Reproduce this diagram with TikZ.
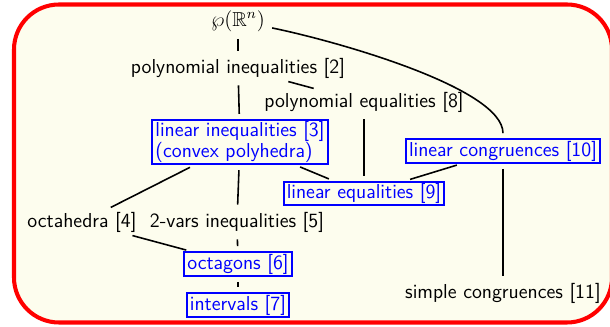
\documentclass[tikz,border=0pt]{standalone}
\usepackage{amssymb}
\definecolor{paper}{RGB}{253,253,238}

\begin{document}
\begin{tikzpicture}[x=0.02cm, y=-0.02cm,
    every node/.style={font=\sffamily\fontsize{11.5}{11.8}\selectfont, inner sep=1pt},
    boxed/.style={draw=blue, text=blue, line width=1pt, inner xsep=1.8pt, inner ysep=0.9pt},
    link/.style={line width=0.9pt, shorten <=3pt, shorten >=3pt}]
    \useasboundingbox (0,0) rectangle (610,327);
    \begin{scope}
      \clip (0,0) rectangle (610,327);
      \draw[red, line width=2.3pt, fill=paper, rounded corners=0.9cm] (14,4.5) rectangle (612,322.5);
    \end{scope}
    \node (wp) at (238,21) {$\wp(\mathbb{R}^n)$};
    \node (pineq) at (238,68) {polynomial inequalities [2]};
    \node (peq) at (364,102) {polynomial equalities [8]};
    \node[boxed, align=left] (lineq) at (240,142) {linear inequalities [3]\\(convex polyhedra)};
    \node[boxed] (lcong) at (503,151) {linear congruences [10]};
    \node[boxed] (leq) at (364,193.5) {linear equalities [9]};
    \node (octa) at (82,222) {octahedra [4]};
    \node (twovar) at (237,222) {2-vars inequalities [5]};
    \node[boxed] (octag) at (238,264) {octagons [6]};
    \node[boxed] (intv) at (238,305) {intervals [7]};
    \node (scong) at (503,293) {simple congruences [11]};
    \draw[link] (wp) -- (pineq);
    \draw[link] (wp) .. controls +(98,20) and +(0,-63) .. (lcong);
    \draw[link] (pineq) -- (peq);
    \draw[link] (pineq) -- (lineq);
    \draw[link] (peq) -- (leq);
    \draw[link] (lineq) -- (leq);
    \draw[link] (lcong) -- (leq);
    \draw[link] (lcong) -- (scong);
    \draw[link] (lineq) -- (octa);
    \draw[link] (lineq) -- (twovar);
    \draw[link] (octa) -- (octag);
    \draw[link] (twovar) -- (octag);
    \draw[link] (octag) -- (intv);
  \end{tikzpicture}
\end{document}
